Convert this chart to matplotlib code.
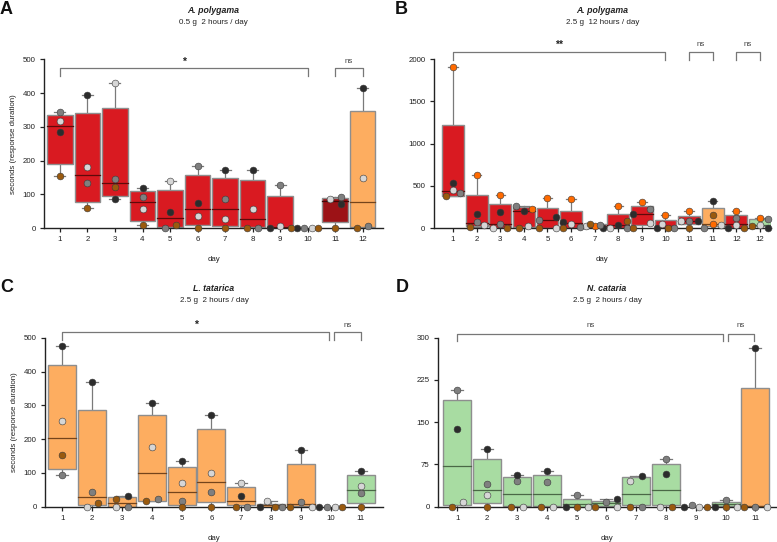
import numpy as np
import matplotlib
matplotlib.use("Agg")
import matplotlib.pyplot as plt

plt.rcParams['font.family'] = ['Liberation Sans', 'DejaVu Sans']

W, H = 777, 542
nan = np.nan

# ---------------- data ----------------
# panel A: A. polygama 0.5 g 2 h/day
A_labels = ["1", "2", "3", "4", "5", "6", "7", "8", "9", "10", "11", "12"]
A_q1 = [189, 78, 96, 21, 2, 8, 5, 2, 2, nan, 18, 2]
A_med = [301, 156, 132, 76, 29, 55, 56, 27, 4, nan, 81, 77]
A_q3 = [335, 340, 357, 110, 114, 156, 148, 142, 94, nan, 90, 347]
A_lo = [154, 58, 86, 9, 0, 0, 0, 0, 0, nan, 0, 0]
A_hi = [343, 394, 429, 118, 138, 185, 171, 173, 126, nan, 93, 415]
A_dots = {
    "light": [317, 180, 429, 56, 138, 37, 26, 56, 7, 0, 86, 149],
    "gray": [343, 132, 144, 93, 0, 185, 86, 0, 126, 0, 93, 5],
    "dark": [285, 394, 86, 118, 46, 73, 171, 173, 0, 0, 71, 415],
    "brown": [154, 58, 122, 9, 9, 0, 0, 0, 0, 0, 0, 0],
}

# panel B: A. polygama 2.5 g 12 h/day
B_labels = ["1", "2", "3", "4", "5", "6", "7", "8", "9", "10", "11", "11", "12", "12"]
B_q1 = [383, 24, 5, 10, 2, 5, 5, 3, 30, 2, 43, 20, 2, 20]
B_med = [443, 63, 43, 205, 91, 60, 26, 40, 166, 25, 79, 45, 43, 32]
B_q3 = [1218, 391, 285, 250, 233, 201, 42, 170, 264, 95, 138, 240, 154, 103]
B_lo = [379, 16, 0, 0, 0, 0, 0, 0, 0, 0, 0, 0, 0, 0]
B_hi = [1909, 624, 395, 261, 352, 344, 47, 264, 308, 154, 201, 324, 201, 122]
B_dots = {
    "orange": [1909, 624, 395, 225, 352, 344, 24, 264, 308, 154, 201, 43, 201, 122],
    "dark": [537, 170, 190, 198, 127, 71, 0, 36, 166, 0, 79, 324, 0, 0],
    "light": [447, 32, 0, 28, 0, 51, 28, 0, 55, 47, 79, 35, 39, 32],
    "gray": [411, 67, 47, 261, 91, 8, 38, 0, 225, 0, 79, 0, 122, 103],
    "brown": [379, 16, 5, 0, 0, 0, 47, 79, 0, 0, 0, 154, 0, 18],
}

# panel C: L. tatarica 2.5 g 2 h/day
C_labels = ["1", "2", "3", "4", "5", "6", "7", "8", "9", "10", "11"]
C_q1 = [111, 5, 0, 18, 6, 13, 5, 0, 3, nan, 10]
C_med = [202, 28, 11, 99, 43, 72, 17, 4, 7, nan, 48]
C_q3 = [418, 286, 28, 272, 117, 229, 59, 8, 126, nan, 93]
C_lo = [93, 0, 0, 18, 0, 0, 0, 0, 0, nan, 0]
C_hi = [474, 368, 31, 306, 134, 272, 71, 16, 167, nan, 106]
C_dots = {
    "light": [253, 0, 0, 176, 71, 101, 71, 16, 0, 0, 61],
    "gray": [93, 44, 0, 22, 18, 44, 0, 0, 13, 0, 40],
    "dark": [474, 368, 31, 306, 134, 272, 33, 0, 167, 0, 106],
    "brown": [152, 10, 23, 18, 0, 0, 0, 0, 0, 0, 0],
}

# panel D: N. cataria 2.5 g 2 h/day
D_labels = ["1", "2", "3", "4", "5", "6", "7", "8", "9", "10", "11"]
D_q1 = [3, 6, 1, 1, 0, 2, 3, 3, nan, 1, 1]
D_med = [73, 29, 22, 22, 5, 6, 23, 29, nan, 4, 1]
D_q3 = [189, 85, 53, 57, 13, 11, 52, 76, nan, 8, 211]
D_lo = [0, 0, 0, 0, 0, 0, 0, 0, nan, 0, 0]
D_hi = [207, 102, 57, 63, 20, 14, 54, 84, nan, 12, 282]
D_dots = {
    "light": [9, 20, 0, 0, 0, 0, 46, 0, 0, 0, 0],
    "gray": [207, 40, 45, 44, 20, 8, 0, 84, 3, 12, 0],
    "dark": [138, 102, 57, 63, 0, 14, 54, 58, 0, 0, 282],
    "brown": [0, 0, 0, 0, 0, 0, 0, 0, 0, 0, 0],
}

# ---------------- layout / style ----------------
A_jit = {
    "light": [0, 0, 0, 0, 0, 0, 0, 0, 0, 0.15, -0.2, 0],
    "gray": [0, 0, 0, 0, -0.2, 0, 0, 0.2, 0, -0.13, 0.2, 0.2],
    "dark": [0, 0, 0, 0, 0, 0, 0, 0, -0.36, -0.4, 0.2, 0],
    "brown": [0, 0, 0, 0, 0.2, 0, 0, -0.2, 0.38, 0.39, 0, -0.2],
}
B_jit = {
    "orange": [0, 0, 0, 0.36, 0, 0, 0, 0, 0, 0, 0, 0, 0, 0],
    "dark": [0, 0, 0, 0, 0.36, -0.34, 0.34, 0, -0.36, -0.34, 0.37, 0, -0.36, 0.36],
    "light": [0, 0.3, -0.3, 0.18, 0.35, 0, -0.36, -0.35, 0.35, -0.13, -0.35, 0.34, 0, 0],
    "gray": [0.3, 0, 0, -0.33, -0.36, 0.37, 0.23, 0.36, 0.35, 0.36, 0, -0.35, 0, 0.36],
    "brown": [-0.3, -0.3, 0.3, -0.2, -0.35, -0.33, -0.18, 0.36, -0.36, 0.12, 0, 0, 0.34, -0.34],
}
C_jit = {
    "light": [0, -0.18, -0.19, 0, 0, 0, 0, -0.13, 0.38, 0.14, 0],
    "gray": [0, 0, 0.2, 0.2, 0, 0, 0.2, 0.38, 0, -0.12, 0],
    "dark": [0, 0, 0.2, 0, 0, 0, 0, -0.37, 0, -0.39, 0],
    "brown": [0, 0.18, -0.2, -0.18, 0, 0, -0.19, 0.13, -0.37, 0.38, 0],
}
D_jit = {
    "light": [0.2, 0, 0.2, 0.2, 0.38, 0.37, -0.2, -0.2, 0.11, 0.38, 0.38],
    "gray": [0, 0, 0, 0, 0, 0, 0.2, 0, -0.14, 0, 0],
    "dark": [0, 0, 0, 0, -0.37, 0.37, 0.2, 0, -0.41, -0.37, 0],
    "brown": [-0.18, 0, -0.2, -0.2, 0, -0.37, -0.2, 0.2, 0.37, 0, -0.38],
}

RED, DRED, ORANGE, GREEN = "#d91a21", "#9c1216", "#fdad60", "#a8dca2"
MED = {RED: "#5e0a0a", DRED: "#420606", ORANGE: "#74441b", GREEN: "#4a6846"}
DOT = {"light": "#d6d6d6", "gray": "#7f7f7f", "dark": "#2c2c2c",
       "brown": "#9a5a0e", "orange": "#ff6a00"}
A_col = [RED] * 10 + [DRED, ORANGE]
B_col = [RED] * 11 + [ORANGE, RED, GREEN]
C_col = [ORANGE] * 10 + [GREEN]
D_col = [GREEN] * 10 + [ORANGE]

fig = plt.figure(figsize=(W / 100, H / 100), dpi=100)


def axrect(l, r, t, b):
    return [l / W, 1 - b / H, (r - l) / W, (b - t) / H]


def draw_panel(rect, xlim, ylim, yticks, labels, q1, med, q3, lo, hi, cols,
               dots, jit, bw, brackets, letter, letter_x, title, sub, ylabel):
    ax = fig.add_axes(axrect(*rect))
    x = np.arange(1, len(labels) + 1)
    for i in range(len(labels)):
        if np.isnan(q3[i]):
            continue
        ax.plot([x[i], x[i]], [q3[i], hi[i]], color="#7a7a7a", lw=0.9, zorder=1)
        ax.plot([x[i], x[i]], [lo[i], q1[i]], color="#7a7a7a", lw=0.9, zorder=1)
        for v in (hi[i], lo[i]):
            if v > 0:
                ax.plot([x[i] - 0.2, x[i] + 0.2], [v, v], color="#7a7a7a", lw=0.9, zorder=1)
        ax.bar(x[i], q3[i] - q1[i], bottom=q1[i], width=bw, color=cols[i],
               edgecolor="#8e8e8e", linewidth=1.0, zorder=2)
        ax.plot([x[i] - bw / 2, x[i] + bw / 2], [med[i], med[i]],
                color=MED[cols[i]], lw=0.9, zorder=3)
    for cat, vals in dots.items():
        ax.scatter(x + np.array(jit[cat]), vals, s=24, color=DOT[cat],
                   edgecolor="#3a3a3a", linewidth=0.4, zorder=5, clip_on=False)
    ax.set_xlim(*xlim)
    ax.set_ylim(*ylim)
    ax.set_xticks(x)
    ax.set_xticklabels(labels)
    ax.set_yticks(yticks)
    for s in ("top", "right"):
        ax.spines[s].set_visible(False)
    for s in ("left", "bottom"):
        ax.spines[s].set_linewidth(1.0)
        ax.spines[s].set_color("#222222")
    ax.tick_params(labelsize=5.7, length=3, width=0.9, color="#222222",
                   labelcolor="#222222", pad=3)
    ax.set_xlabel("day", fontsize=5.7, labelpad=9, color="#222222")
    if ylabel:
        ax.set_ylabel("seconds (response duration)", fontsize=5.7, color="#222222",
                      labelpad=4)
    # significance brackets
    for x0, x1, ytop, ydrop, ytxt, txt in brackets:
        ax.plot([x0, x0, x1, x1], [ydrop, ytop, ytop, ydrop], color="#777777",
                lw=0.9, clip_on=False)
        if txt.startswith("*"):
            ax.text((x0 + x1) / 2, ytxt, txt, ha="center", va="center",
                    fontsize=7.5, fontweight="bold", color="#222222")
        else:
            ax.text((x0 + x1) / 2, ytxt, txt, ha="center", va="center",
                    fontsize=5.7, color="#444444")
    # titles
    cx = (rect[0] + rect[1]) / 2
    ty = rect[2] - 49
    fig.text(cx / W, 1 - ty / H, title, ha="center", va="center", fontsize=6.3,
             fontweight="bold", fontstyle="italic", color="#222222")
    fig.text(cx / W, 1 - (ty + 12) / H, sub, ha="center", va="center",
             fontsize=5.8, color="#222222")
    fig.text(letter_x / W, 1 - (rect[2] - 50) / H, letter, ha="left",
             va="center", fontsize=13, fontweight="bold", color="#111111")
    return ax


draw_panel((44, 383, 59.3, 228), (0.42, 12.74), (0, 500), [0, 100, 200, 300, 400, 500],
           A_labels, A_q1, A_med, A_q3, A_lo, A_hi, A_col, A_dots, A_jit, 0.92,
           [(1, 10, 473, 450, 493, "*"), (11, 12, 473, 450, 493, "ns")],
           "A", 0, "A. polygama", "0.5 g  2 hours / day", True)

draw_panel((433.7, 771, 59.3, 228), (0.18, 14.47), (0, 2000), [0, 500, 1000, 1500, 2000],
           B_labels, B_q1, B_med, B_q3, B_lo, B_hi, B_col, B_dots, B_jit, 0.92,
           [(1, 10, 2087, 1990, 2170, "**"), (11, 12, 2087, 1990, 2170, "ns"),
            (13, 14, 2087, 1990, 2170, "ns")],
           "B", 395, "A. polygama", "2.5 g  12 hours / day", False)

draw_panel((45, 383, 337.7, 506.7), (0.42, 11.75), (0, 500), [0, 100, 200, 300, 400, 500],
           C_labels, C_q1, C_med, C_q3, C_lo, C_hi, C_col, C_dots, C_jit, 0.94,
           [(1, 9.95, 518, 493, 537, "*"), (10.1, 11, 518, 493, 537, "ns")],
           "C", 0, "L. tatarica", "2.5 g  2 hours / day", True)

draw_panel((438, 776, 337.7, 506.7), (0.35, 11.69), (0, 300), [0, 75, 150, 225, 300],
           D_labels, D_q1, D_med, D_q3, D_lo, D_hi, D_col, D_dots, D_jit, 0.94,
           [(1, 9.92, 306, 295, 322, "ns"), (10.08, 10.95, 306, 295, 322, "ns")],
           "D", 396, "N. cataria", "2.5 g  2 hours / day", False)

fig.savefig("out.png", dpi=100)
